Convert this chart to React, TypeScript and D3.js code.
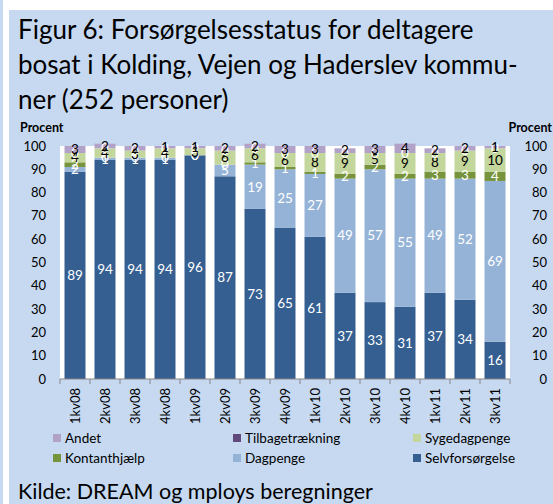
import React from 'react';
import * as d3 from 'd3';

// quarters on the x axis
const quarters = ['1kv08', '2kv08', '3kv08', '4kv08', '1kv09', '2kv09', '3kv09', '4kv09',
  '1kv10', '2kv10', '3kv10', '4kv10', '1kv11', '2kv11', '3kv11'];

// series, bottom to top (percent of persons)
const selvforsorgelse = [89, 94, 94, 94, 96, 87, 73, 65, 61, 37, 33, 31, 37, 34, 16];
const dagpenge = [2, 1, 1, 1, 0, 5, 19, 25, 27, 49, 57, 55, 49, 52, 69];
const kontanthjaelp = [2, 0, 0, 0, 0, 0, 1, 1, 1, 2, 2, 2, 3, 3, 4];
const sygedagpenge = [4, 4, 3, 4, 3, 6, 6, 6, 8, 9, 5, 9, 8, 9, 10];
const tilbagetraekning = [0, 0, 0, 0, 0, 0, 0, 0, 0, 0, 0, 0, 0, 0, 0];
const andet = [3, 2, 2, 1, 1, 2, 2, 3, 3, 2, 3, 4, 2, 2, 1];

const yTicks = [0, 10, 20, 30, 40, 50, 60, 70, 80, 90, 100];

const series = [
  { name: 'Selvforsørgelse', values: selvforsorgelse, color: '#365f91', text: '#fff' },
  { name: 'Dagpenge', values: dagpenge, color: '#95b3d7', text: '#fff' },
  { name: 'Kontanthjælp', values: kontanthjaelp, color: '#77933c', text: '#fff' },
  { name: 'Sygedagpenge', values: sygedagpenge, color: '#c3d69b', text: '#000' },
  { name: 'Tilbagetrækning', values: tilbagetraekning, color: '#604a7b', text: '#fff' },
  { name: 'Andet', values: andet, color: '#b3a2c7', text: '#000' },
];

// legend order as in the picture
const legendOrder = ['Andet', 'Tilbagetrækning', 'Sygedagpenge', 'Kontanthjælp', 'Dagpenge', 'Selvforsørgelse'];

const titleLines = [
  'Figur 6: Forsørgelsesstatus for deltagere',
  'bosat i Kolding, Vejen og Haderslev kommu-',
  'ner (252 personer)',
];

const FONT = 'Lato, "Open Sans", sans-serif';

export default function App() {
  const width = 553;
  const height = 504;
  const plot = { left: 60, right: 510, top: 146, bottom: 379 };

  const x = d3.scaleBand<string>()
    .domain(quarters)
    .range([plot.left, plot.right])
    .paddingInner(0.3)
    .paddingOuter(0.15);

  const y = d3.scaleLinear().domain([0, 100]).range([plot.bottom, plot.top]);

  const rows = quarters.map((q, i) => {
    const row: any = { q };
    series.forEach(s => { row[s.name] = s.values[i]; });
    return row;
  });
  const stacked = d3.stack().keys(series.map(s => s.name))(rows);

  const step = x.step();
  const boundaries = d3.range(quarters.length + 1).map(i => plot.left + i * step);

  return (
    <svg width={width} height={height} style={{ position: 'absolute', left: 0, top: 0 }}
      fontFamily={FONT}>
      <rect x={0} y={0} width={width} height={height} fill="#fff" />
      <rect x={0} y={0} width={3} height={height} fill="#c6d9f1" />
      <rect x={9} y={10} width={width - 9} height={height - 10} fill="#c6d9f1" />

      {titleLines.map((t, i) => (
        <text key={i} x={18} y={39 + i * 35} fontSize={26} fill="#000">{t}</text>
      ))}

      <rect x={plot.left} y={plot.top} width={plot.right - plot.left} height={plot.bottom - plot.top} fill="#fff" />

      {stacked.map((layer, li) => (
        <g key={layer.key}>
          {layer.map((d, i) => (
            <rect key={i} x={x(quarters[i])} y={y(d[1])} width={x.bandwidth()}
              height={Math.max(0, y(d[0]) - y(d[1]))} fill={series[li].color} />
          ))}
        </g>
      ))}

      {stacked.map((layer, li) => (
        <g key={'l' + layer.key} fontSize={13.5} textAnchor="middle" fill={series[li].text}>
          {layer.map((d, i) => (
            <text key={i} x={x(quarters[i])! + x.bandwidth() / 2} y={y((d[0] + d[1]) / 2)} dy="0.35em">
              {series[li].values[i]}
            </text>
          ))}
        </g>
      ))}

      {/* x axis */}
      <line x1={plot.left} x2={plot.right} y1={plot.bottom} y2={plot.bottom} stroke="#868686" />
      {boundaries.map((bx, i) => (
        <line key={i} x1={bx} x2={bx} y1={plot.bottom} y2={plot.bottom + 5} stroke="#868686" />
      ))}
      {quarters.map(q => (
        <text key={q} transform={`translate(${x(q)! + x.bandwidth() / 2},388) rotate(-90)`}
          textAnchor="end" dy="0.35em" fontSize={13} fill="#000">{q}</text>
      ))}

      {/* y axes */}
      {yTicks.map(t => (
        <g key={t} fontSize={13} fill="#000">
          <text x={46} y={y(t)} dy="0.35em" textAnchor="end">{t}</text>
          <text x={547} y={y(t)} dy="0.35em" textAnchor="end">{t}</text>
        </g>
      ))}
      <text x={20} y={128} dy="0.35em" fontSize={12.5} fontWeight="bold">Procent</text>
      <text x={552} y={128} dy="0.35em" fontSize={12.5} fontWeight="bold" textAnchor="end">Procent</text>

      {/* legend */}
      {legendOrder.map((name, i) => {
        const s = series.find(d => d.name === name)!;
        const lx = 53 + (i % 3) * 180;
        const ly = 438 + Math.floor(i / 3) * 20;
        return (
          <g key={name}>
            <rect x={lx} y={ly - 4} width={8} height={8} fill={s.color} />
            <text x={lx + 12} y={ly} dy="0.35em" fontSize={13.5} fill="#000">{name}</text>
          </g>
        );
      })}

      <text x={18} y={499} fontSize={21.5} fill="#000">Kilde: DREAM og mploys beregninger</text>
    </svg>
  );
}
